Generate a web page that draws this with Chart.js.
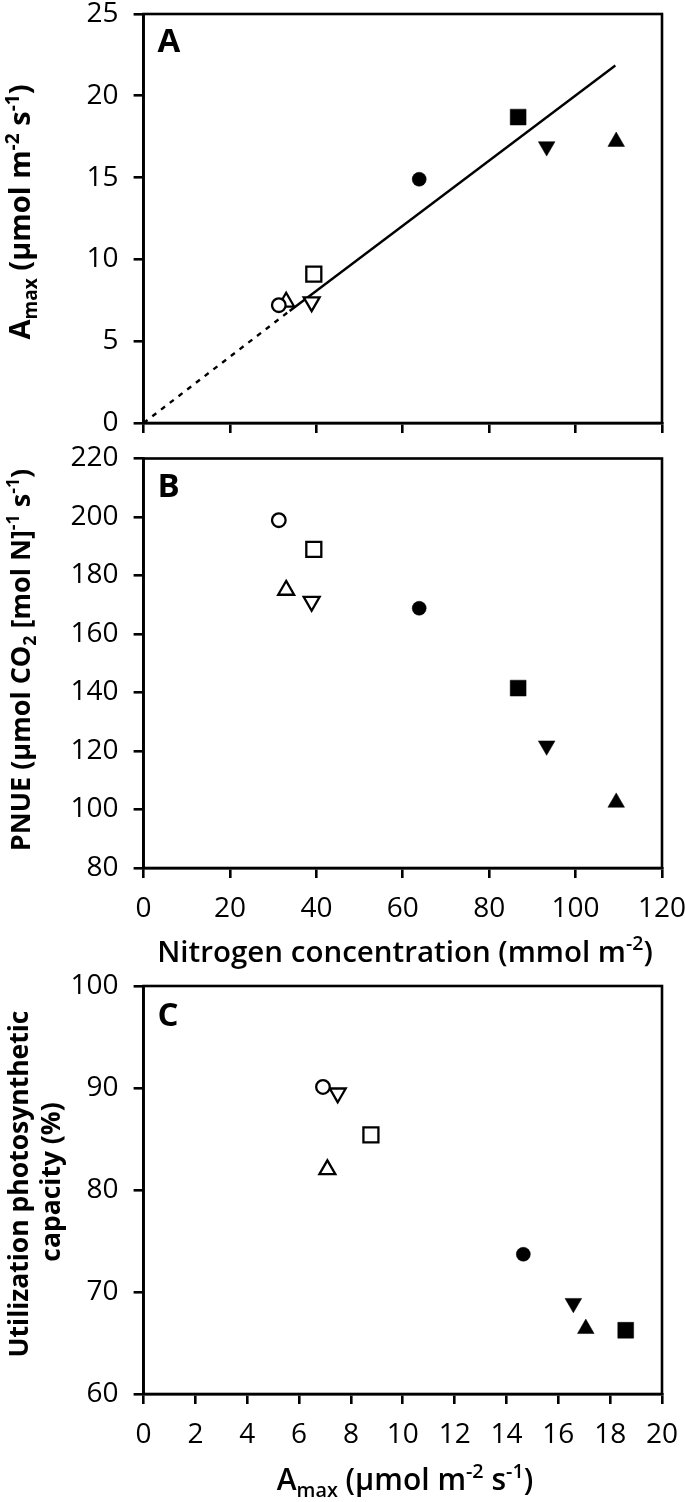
<!DOCTYPE html>
<html><head><meta charset="utf-8">
<script src="https://cdn.jsdelivr.net/npm/chart.js@4.4.1/dist/chart.umd.min.js"></script>
<style>
html,body{margin:0;padding:0;background:#fff;width:685px;height:1502px;overflow:hidden;position:relative}
canvas{position:absolute;left:0}
</style></head>
<body>
<canvas id="cA" width="685" height="440" style="top:0px"></canvas>
<canvas id="cB" width="685" height="540" style="top:440px"></canvas>
<canvas id="cC" width="685" height="562" style="top:940px"></canvas>
<script>
// ---- data (order: open circle, open up-triangle, open down-triangle, open square,
//               filled circle, filled square, filled down-triangle, filled up-triangle)
const nitrogen    = [31.3, 33.0, 38.9, 39.4, 63.8, 86.7, 93.3, 109.4];   // mmol m-2
const amax        = [7.2, 7.4, 7.4, 9.1, 14.9, 18.7, 16.9, 17.2];         // panel A
const pnue        = [198.9, 175.0, 171.1, 188.9, 168.8, 141.5, 121.8, 102.4]; // panel B
const amaxC       = [6.92, 7.09, 7.49, 8.77, 14.65, 18.6, 16.58, 17.06];  // panel C x
const utilization = [90.1, 82.0, 89.5, 85.4, 73.7, 66.25, 68.9, 66.4];    // panel C y
const fitX = [0, 33.8, 109.2];
const fitY = [0, 6.85, 21.85];

const ticksN    = [0, 20, 40, 60, 80, 100, 120];
const ticksAmax = [0, 5, 10, 15, 20, 25];
const ticksPnue = [80, 100, 120, 140, 160, 180, 200, 220];
const ticksAmaxC = [0, 2, 4, 6, 8, 10, 12, 14, 16, 18, 20];
const ticksUtil = [60, 70, 80, 90, 100];

// ---- marker styles
const mStyle  = ['circle','triangle','triangle','rect','circle','rect','triangle','triangle'];
const mRot    = [0, 0, 180, 0, 0, 0, 180, 0];
const mFilled = [false, false, false, false, true, true, true, true];
const mRadius = [6.8, 9.2, 9.2, 10.6, 7, 11.2, 9.6, 9.6];

const FONT = '"Open Sans", sans-serif';

function pointSets(xs, ys) {
  return xs.map((x, i) => ({
    type: 'scatter',
    data: [{x: x, y: ys[i]}],
    pointStyle: mStyle[i],
    rotation: mRot[i],
    radius: mRadius[i],
    pointRadius: mRadius[i],
    pointBackgroundColor: mFilled[i] ? '#000' : '#fff',
    pointBorderColor: '#000',
    pointBorderWidth: mFilled[i] ? 0.5 : 2.3,
    order: 0
  }));
}

function drawRich(ctx, parts, size, weight, cx, cy, rotate) {
  ctx.save();
  ctx.translate(cx, cy);
  if (rotate) ctx.rotate(-Math.PI / 2);
  ctx.fillStyle = '#000';
  ctx.textBaseline = 'alphabetic';
  ctx.textAlign = 'left';
  const small = size * 0.66;
  let total = 0;
  const widths = parts.map(p => {
    ctx.font = `${weight} ${p[1] === 'n' ? size : small}px ${FONT}`;
    const w = ctx.measureText(p[0]).width;
    total += w;
    return w;
  });
  let x = -total / 2;
  const base = size * 0.36;
  parts.forEach((p, i) => {
    ctx.font = `${weight} ${p[1] === 'n' ? size : small}px ${FONT}`;
    let dy = base;
    if (p[1] === 'sub') dy += size * 0.24;
    if (p[1] === 'sup') dy -= size * 0.40;
    ctx.fillText(p[0], x, dy);
    x += widths[i];
  });
  ctx.restore();
}

const framePlugin = {
  id: 'frame',
  afterDraw(chart, args, opts) {
    const ctx = chart.ctx, a = chart.chartArea;
    ctx.save();
    ctx.strokeStyle = '#000';
    ctx.lineWidth = 2.6;
    ctx.strokeRect(a.left, a.top, a.right - a.left, a.bottom - a.top);
    ctx.fillStyle = '#000';
    ctx.font = `bold 33px ${FONT}`;
    ctx.textBaseline = 'alphabetic';
    ctx.fillText(opts.letter, a.left + 14, a.top + opts.letterY);
    ctx.restore();
    (opts.titles || []).forEach(t => drawRich(ctx, t.parts, t.size, t.weight, t.cx, t.cy, t.rotate));
  }
};

function axis(min, max, tickArr, opts) {
  return {
    type: 'linear',
    min: min, max: max,
    afterBuildTicks: s => { s.ticks = tickArr.map(v => ({value: v})); },
    afterFit: s => {
      opts.fit(s);
      s.paddingTop = 0; s.paddingBottom = 0; s.paddingLeft = 0; s.paddingRight = 0;
    },
    position: opts.position,
    border: {display: true, color: '#000', width: 2.6},
    grid: {display: true, drawOnChartArea: false, drawTicks: true, tickLength: 10, color: '#000', lineWidth: 2.6},
    ticks: {
      color: opts.hideLabels ? 'rgba(0,0,0,0)' : '#000',
      font: {family: FONT, size: 28, weight: '400'},
      padding: opts.padding,
      maxRotation: 0, autoSkip: false
    }
  };
}

function make(id, datasets, scales, padding, frameOpts) {
  return new Chart(document.getElementById(id), {
    type: 'scatter',
    data: {datasets: datasets},
    options: {
      responsive: false, animation: false, devicePixelRatio: 1,
      layout: {padding: padding},
      plugins: {legend: {display: false}, tooltip: {enabled: false}, frame: frameOpts},
      scales: scales
    },
    plugins: [framePlugin]
  });
}

const amaxTitle = [['A','n'],['max','sub'],[' (\u03bcmol m','n'],['-2','sup'],[' s','n'],['-1','sup'],[')','n']];

// ---- Panel A
const fitLine = {
  type: 'line',
  data: fitX.map((x, i) => ({x: x, y: fitY[i]})),
  showLine: true, pointRadius: 0, borderColor: '#000', borderWidth: 2.4, fill: false,
  segment: {borderDash: c => c.p0DataIndex === 0 ? [5, 6] : []},
  order: 10
};
make('cA', [fitLine].concat(pointSets(nitrogen, amax)), {
  x: axis(0, 120, ticksN, {position: 'bottom', hideLabels: true, padding: 14, fit: s => { s.height = 17; }}),
  y: axis(0, 25, ticksAmax, {position: 'left', padding: 15, fit: s => { s.width = 143.6; }})
}, {top: 14, right: 23, left: 0, bottom: 0}, {
  letter: 'A', letterY: 38,
  titles: [{parts: amaxTitle, size: 29, weight: 'bold', cx: 20, cy: 212, rotate: true}]
});

// ---- Panel B
make('cB', pointSets(nitrogen, pnue), {
  x: axis(0, 120, ticksN, {position: 'bottom', padding: 14, fit: s => { s.height = 112; }}),
  y: axis(80, 220, ticksPnue, {position: 'left', padding: 15, fit: s => { s.width = 143.6; }})
}, {top: 18.5, right: 23, left: 0, bottom: 0}, {
  letter: 'B', letterY: 38,
  titles: [
    {parts: [['PNUE (\u03bcmol CO','n'],['2','sub'],[' [mol N]','n'],['-1','sup'],[' s','n'],['-1','sup'],[')','n']], size: 27, weight: 'bold', cx: 20, cy: 220, rotate: true},
    {parts: [['Nitrogen concentration (mmol m','n'],['-2','sup'],[')','n']], size: 29.5, weight: '600', cx: 405, cy: 511, rotate: false}
  ]
});

// ---- Panel C
make('cC', pointSets(amaxC, utilization), {
  x: axis(0, 20, ticksAmaxC, {position: 'bottom', padding: 14, fit: s => { s.height = 108; }}),
  y: axis(60, 100, ticksUtil, {position: 'left', padding: 15, fit: s => { s.width = 143.6; }})
}, {top: 46, right: 23, left: 0, bottom: 0}, {
  letter: 'C', letterY: 40,
  titles: [
    {parts: [['Utilization photosynthetic','n']], size: 26.5, weight: 'bold', cx: 18, cy: 244, rotate: true},
    {parts: [['capacity (%)','n']], size: 26.5, weight: 'bold', cx: 50, cy: 242, rotate: true},
    {parts: amaxTitle, size: 30, weight: '600', cx: 405, cy: 539, rotate: false}
  ]
});
</script>
</body></html>
